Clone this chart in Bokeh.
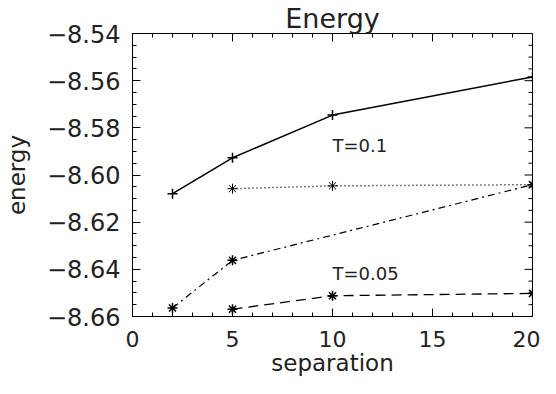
import math
from bokeh.plotting import figure
from bokeh.models import FixedTicker, Range1d, ColumnDataSource
from bokeh.core.properties import value
from bokeh.embed import file_html
from bokeh.resources import INLINE

# ---- data ----
sep_solid = [2, 5, 10, 20]
energy_solid = [-8.6079, -8.5927, -8.5746, -8.5584]

sep_dotted = [5, 10, 20]
energy_dotted = [-8.6058, -8.6046, -8.6041]

sep_dashdot = [2, 5, 20]
energy_dashdot = [-8.6564, -8.6362, -8.6041]

sep_dashed = [5, 10, 20]
energy_dashed = [-8.6569, -8.6512, -8.6502]

label_x = [10, 10]
label_y = [-8.5874, -8.6418]
label_text = ["T=0.1", "T=0.05"]

x_lo, x_hi = 0, 20
y_lo, y_hi = -8.66, -8.54
x_ticks = [0, 5, 10, 15, 20]
x_minor = [v for v in range(x_lo, x_hi + 1) if v not in x_ticks]
y_ticks = [-8.54, -8.56, -8.58, -8.60, -8.62, -8.64, -8.66]
y_minor = [round(y_lo + 0.005 * i, 3) for i in range(25) if i % 4 != 0]
y_tick_labels = {t: "\u2212%.2f" % abs(t) for t in y_ticks}

FONT = "DejaVu Sans"
INK = "#222222"

p = figure(width=540, height=378, output_backend="svg", toolbar_location=None,
           x_range=Range1d(x_lo, x_hi), y_range=Range1d(y_lo, y_hi),
           min_border_left=123, min_border_right=8, min_border_top=32,
           min_border_bottom=59, x_axis_label="separation", y_axis_label="energy")

p.title.text = "Energy"
p.title.align = "center"
p.title.text_font = FONT
p.title.text_font_size = "27px"
p.title.text_font_style = "normal"
p.title.text_color = INK
p.title.offset = 0
p.title.standoff = 0

p.xgrid.visible = False
p.ygrid.visible = False
p.outline_line_color = "black"
p.background_fill_color = "white"
p.border_fill_color = "white"

def style_axis(ax):
    ax.axis_line_color = "black"
    ax.major_tick_in = 8
    ax.major_tick_out = 0
    ax.minor_tick_in = 4
    ax.minor_tick_out = 0
    ax.major_tick_line_color = "black"
    ax.minor_tick_line_color = "black"
    ax.major_label_text_font = FONT
    ax.major_label_text_color = INK
    ax.axis_label_text_font = FONT
    ax.axis_label_text_font_style = "normal"
    ax.axis_label_text_color = INK

xa = p.xaxis[0]
xa.ticker = FixedTicker(ticks=x_ticks, minor_ticks=x_minor)
style_axis(xa)
xa.major_label_text_font_size = "22px"
xa.major_label_standoff = 14
xa.axis_label_standoff = 0
xa.axis_label_text_font_size = "23px"

ya = p.yaxis[0]
ya.ticker = FixedTicker(ticks=y_ticks, minor_ticks=y_minor)
style_axis(ya)
ya.major_label_text_font_size = "24px"
ya.major_label_overrides = y_tick_labels
ya.major_label_standoff = 12
ya.axis_label_standoff = 14
ya.axis_label_text_font_size = "23px"

# inward ticks on the top and right frame edges (half of each dash is clipped by the frame)
p.scatter(x_ticks, [y_hi] * len(x_ticks), marker="dash", angle=math.pi / 2, size=16,
          line_color="black", line_width=1)
p.scatter(x_minor, [y_hi] * len(x_minor), marker="dash", angle=math.pi / 2, size=8,
          line_color="black", line_width=1)
p.scatter([x_hi] * len(y_ticks), y_ticks, marker="dash", size=16,
          line_color="black", line_width=1)
p.scatter([x_hi] * len(y_minor), y_minor, marker="dash", size=8,
          line_color="black", line_width=1)

# series
p.line(sep_solid, energy_solid, line_color="black", line_width=1.5)
p.scatter(sep_solid, energy_solid, marker="cross", size=10, line_color="black", line_width=1.5)

p.line(sep_dotted, energy_dotted, line_color="black", line_width=1.5, line_dash="1 3")
p.scatter(sep_dotted, energy_dotted, marker="asterisk", size=10, line_color="black", line_width=1)

p.line(sep_dashdot, energy_dashdot, line_color="black", line_width=1.2, line_dash="7 4 2 4")
p.scatter(sep_dashdot, energy_dashdot, marker="asterisk", size=10, line_color="black", line_width=1.5)

p.line(sep_dashed, energy_dashed, line_color="black", line_width=1.3, line_dash="10 6")
p.scatter(sep_dashed, energy_dashed, marker="asterisk", size=10, line_color="black", line_width=1.5)

src = ColumnDataSource(dict(x=label_x, y=label_y, t=label_text))
p.text(x="x", y="y", text="t", source=src, text_font=value(FONT), text_font_size="18px",
       text_align="left", text_baseline="middle", text_color=INK)

open("out.html", "w").write(file_html(p, INLINE))
